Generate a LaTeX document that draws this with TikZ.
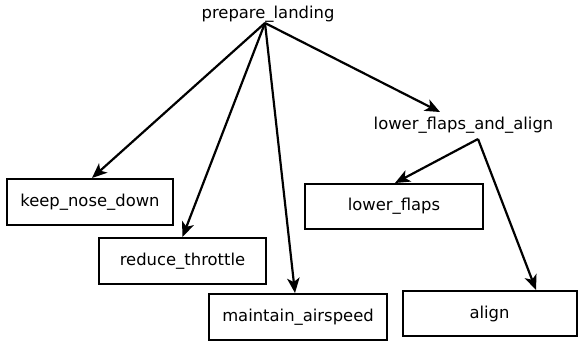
\documentclass[tikz,border=0pt]{standalone}
\usepackage{fontspec}
\setmainfont{DejaVu Sans}
\usetikzlibrary{arrows.meta}
\begin{document}
\begin{tikzpicture}[x=1pt,y=-1pt,
  box/.style={draw,line width=2pt,minimum width=#1,minimum height=46pt,inner sep=0pt,font=\fontsize{16.4}{19}\selectfont},
  lbl/.style={inner sep=0pt,font=\fontsize{16.4}{19}\selectfont},
  arr/.style={line width=2.2pt,-{Stealth[length=15pt,width=12.5pt,inset=4pt]}}]
\useasboundingbox (0,0) rectangle (578,341);
\node[lbl] (pl) at (268,14) {prepare\_landing};
\node[lbl] (lfa) at (463.5,125) {lower\_flaps\_and\_align};
\coordinate (plo) at (265,23);
\coordinate (lfao) at (478,139);
\coordinate (lfai) at (440,112);
\node[box=166pt] (knd) at (90,202) {keep\_nose\_down};
\node[box=167pt] (rt) at (182.5,261) {reduce\_throttle};
\node[box=178pt] (ma) at (298,317) {maintain\_airspeed};
\node[box=178pt,minimum height=45pt] (lf) at (394,206.5) {lower\_flaps};
\node[box=174pt,minimum height=45pt] (al) at (489.5,313.5) {align};
\draw[arr] (plo) -- ([xshift=2pt]knd.north);
\draw[arr] (plo) -- (rt.north);
\draw[arr] (plo) -- ([xshift=-3pt]ma.north);
\draw[arr] (plo) -- (lfai);
\draw[arr] (lfao) -- ([xshift=1pt]lf.north);
\draw[arr] (lfao) -- ([xshift=46.5pt]al.north);
\end{tikzpicture}
\end{document}
